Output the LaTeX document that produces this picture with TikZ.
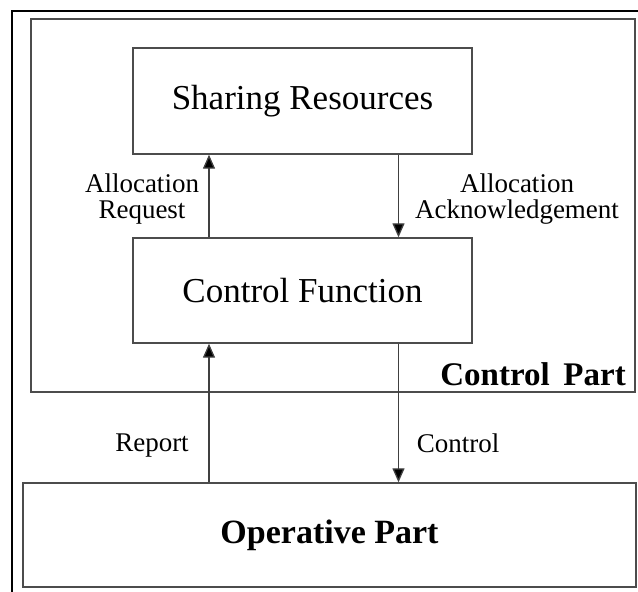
\documentclass[tikz,border=0pt]{standalone}
\usepackage{fontspec}
\setmainfont{Liberation Serif}
\usetikzlibrary{arrows.meta}

\tikzset{
  box/.style={draw=black!70,line width=1.4pt,minimum width=339pt,minimum height=105pt,
    inner sep=0pt,font=\fontsize{35}{40}\selectfont},
  lbl/.style={align=center,inner sep=0pt,font=\fontsize{27}{26}\selectfont},
  arr/.style={draw=black!75,line width=1.3pt,-{Triangle[length=14pt,width=12pt,fill=black]}}
}

\begin{document}
\begin{tikzpicture}[x=1pt,y=-1pt]
    \useasboundingbox (0,0) rectangle (638,592);

    % Outer frame
    \draw[line width=2.8pt] (12,600) -- (12,11) -- (650,11);

    % Control part frame
    \node[draw=black!70,line width=1.6pt,minimum width=604pt,minimum height=373pt,inner sep=0pt]
        (cpart) at (333,205.5) {};
    \node[anchor=east,inner sep=0pt,font=\fontsize{33}{38}\selectfont\bfseries]
        (cpartlbl) at (626,374) {Control\ \,Part};

    % Boxes
    \node[box,minimum height=106pt] (share) at (302.5,101) {Sharing Resources};
    \node[box] (ctrl) at (302.5,290.5) {Control Function};
    \node[box,minimum width=613pt,minimum height=104pt,font=\fontsize{34}{40}\selectfont\bfseries]
        (oper) at (329.5,535) {Operative Part};

    % Arrow columns
    \coordinate (xl) at (209,0);
    \coordinate (xr) at (398.5,0);

    % Arrows
    \draw[arr] (ctrl.north -| xl) -- (share.south -| xl);
    \draw[arr] (share.south -| xr) -- (ctrl.north -| xr);
    \draw[arr] (oper.north -| xl) -- (ctrl.south -| xl);
    \draw[arr] (ctrl.south -| xr) -- (oper.north -| xr);

    % Labels
    \node[lbl] (req) at (142,199) {Allocation\\Request};
    \node[lbl] (ack) at (517,199) {Allocation\\Acknowledgement};
    \node[lbl] (rep) at (152,446) {Report};
    \node[lbl] (con) at (458,443) {Control};
\end{tikzpicture}
\end{document}
